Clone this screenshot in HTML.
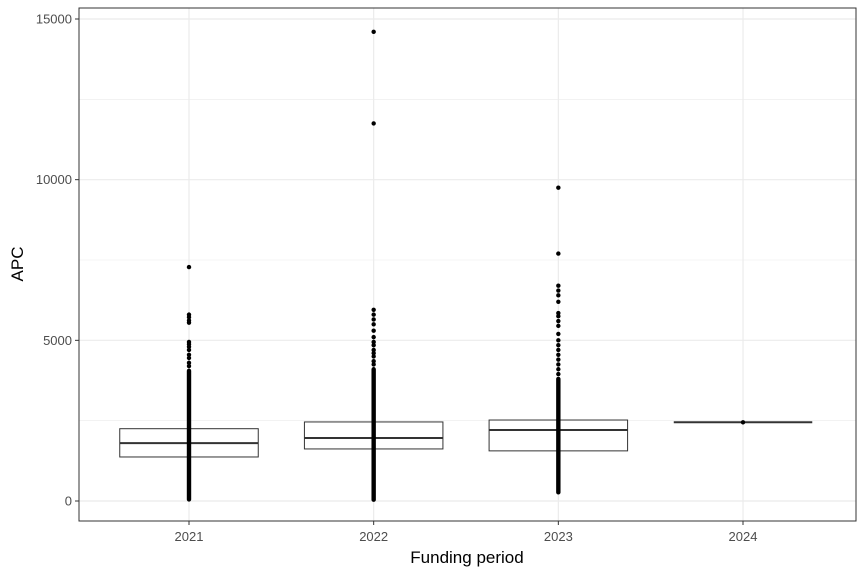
<!DOCTYPE html>
<html><head><meta charset="utf-8"><style>
html,body{margin:0;padding:0;background:#fff;}
svg text{font-family:"Liberation Sans",sans-serif;}
</style></head><body>
<svg id="chart" width="864" height="576" xmlns="http://www.w3.org/2000/svg">
<rect x="0" y="0" width="864" height="576" fill="#fff"/>
<g id="grid"></g>
<g id="boxes"></g>
<g id="points"></g>
<rect x="79" y="8" width="777" height="513" fill="none" stroke="#333" stroke-width="1"/>
<g id="axes"></g>
<text x="467" y="563" text-anchor="middle" font-size="17" fill="#000">Funding period</text>
<text transform="translate(23,264) rotate(-90)" text-anchor="middle" font-size="17" fill="#000">APC</text>
</svg>
<script>
const categories = ["2021","2022","2023","2024"];
const q1 = [1370, 1620, 1560, 2450];
const median = [1800, 1960, 2210, 2450];
const q3 = [2250, 2460, 2520, 2450];
const denseLow = [50, 40, 270, 2450];
const denseHigh = [4050, 4100, 3800, 2450];
const sparse2021 = [7280, 5800, 5720, 5620, 5550, 4950, 4880, 4800, 4700, 4550, 4450, 4300, 4200];
const sparse2022 = [14600, 11750, 5950, 5800, 5650, 5500, 5300, 5100, 4950, 4850, 4700, 4600, 4500, 4350, 4250];
const sparse2023 = [9750, 7700, 6700, 6550, 6400, 6200, 5850, 5750, 5600, 5450, 5200, 5000, 4850, 4700, 4550, 4400, 4250, 4100, 3950];
const sparse2024 = [2450];
const yTicks = [0, 5000, 10000, 15000];
const yMinor = [2500, 7500, 12500];

const NS = "http://www.w3.org/2000/svg";
const yScale = v => 501 - v * (501 - 19) / 15000;
const xScale = i => 189 + i * 184.67;
function mk(tag, attrs, parent){const e=document.createElementNS(NS,tag);for(const k in attrs)e.setAttribute(k,attrs[k]);parent.appendChild(e);return e;}
const grid=document.getElementById('grid'), boxes=document.getElementById('boxes'), pts=document.getElementById('points'), axes=document.getElementById('axes');

yMinor.forEach(v=>{const l=mk('line',{x1:79,x2:856,y1:yScale(v),y2:yScale(v),stroke:'#ebebeb','stroke-width':0.6},grid);

});
yTicks.forEach(v=>{const l=mk('line',{x1:79,x2:856,y1:yScale(v),y2:yScale(v),stroke:'#ebebeb','stroke-width':1.2},grid);


const t=mk('line',{x1:75,x2:79,y1:yScale(v),y2:yScale(v),stroke:'#333','stroke-width':1},axes);


const tx=mk('text',{x:72,y:yScale(v)+4.5,'text-anchor':'end','font-size':13,fill:'#4d4d4d'},axes);tx.textContent=v;

});
categories.forEach((c,i)=>{const x=xScale(i);
const l=mk('line',{x1:x,x2:x,y1:8,y2:521,stroke:'#ebebeb','stroke-width':1.2},grid);


const t=mk('line',{x1:x,x2:x,y1:521,y2:525,stroke:'#333','stroke-width':1},axes);


const tx=mk('text',{x:x,y:541,'text-anchor':'middle','font-size':13,fill:'#4d4d4d'},axes);tx.textContent=c;


const hw=69.25;
const b=mk('rect',{x:x-hw,y:yScale(q3[i]),width:2*hw,height:Math.max(0,yScale(q1[i])-yScale(q3[i])),fill:'#fff',stroke:'#333','stroke-width':1},boxes);


const m=mk('line',{x1:x-hw,x2:x+hw,y1:yScale(median[i]),y2:yScale(median[i]),stroke:'#333','stroke-width':2},boxes);


if(denseHigh[i]>denseLow[i]){const d=mk('line',{x1:x,x2:x,y1:yScale(denseHigh[i]),y2:yScale(denseLow[i]),stroke:'#000','stroke-width':4.4,'stroke-linecap':'round'},pts);

}
});
[sparse2021,sparse2022,sparse2023,sparse2024].forEach((arr,i)=>arr.forEach(v=>{
const p=mk('circle',{cx:xScale(i),cy:yScale(v),r:2.2,fill:'#000'},pts);

}));
</script>
</body></html>
